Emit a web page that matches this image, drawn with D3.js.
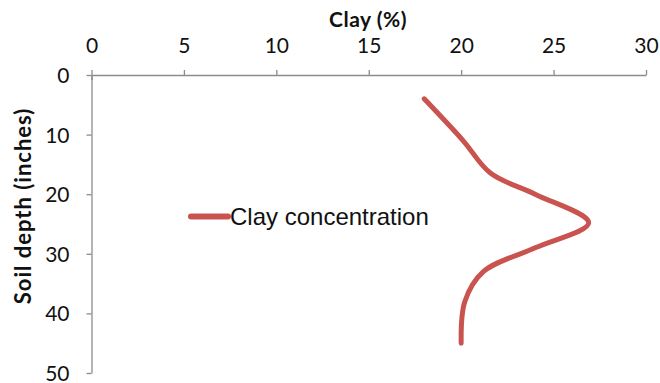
<!DOCTYPE html>
<html>
<head>
<meta charset="utf-8">
<script src="https://cdn.jsdelivr.net/npm/d3@7"></script>
<style>
  html, body { margin: 0; padding: 0; background: #fff; }
  svg { display: block; }
  .tick text { font-family: Lato, "Open Sans", sans-serif; font-size: 21px; fill: #111; }
  .axis path, .axis line { stroke: #8c8c8c; stroke-width: 1.3px; }
</style>
</head>
<body>
<svg id="chart" width="660" height="383"></svg>
<script>
// Clay content with soil depth
const depthIn = [4, 11, 16.5, 20, 24.8, 29, 33, 38, 45];
const clayPct = [18, 20.1, 21.6, 24, 26.9, 24, 21.2, 20.2, 20];
const xTicks = [0, 5, 10, 15, 20, 25, 30];
const yTicks = [0, 10, 20, 30, 40, 50];
const seriesName = "Clay concentration";
const xTitle = "Clay (%)";
const yTitle = "Soil depth (inches)";

const svg = d3.select("#chart");
const plotL = 91.5, plotR = 646, plotT = 75, plotB = 373;
const color = "#c9534f";

const x = d3.scaleLinear().domain([0, 30]).range([plotL, plotR]);
const y = d3.scaleLinear().domain([0, 50]).range([plotT, plotB]);

// top x axis
const gx = svg.append("g").attr("class", "axis").attr("transform", `translate(0,${plotT})`)
  .call(d3.axisTop(x).tickValues(xTicks).tickSize(5).tickPadding(17).tickSizeOuter(0));
gx.selectAll(".tick text").attr("dy", "0");
// the origin tick crosses through the axis line
gx.selectAll(".tick line").filter(d => d === 0).attr("y2", 5).attr("y1", -5);

// left y axis
const gy = svg.append("g").attr("class", "axis").attr("transform", `translate(${plotL},0)`)
  .call(d3.axisLeft(y).tickValues(yTicks).tickSize(5).tickPadding(17).tickSizeOuter(0));
gy.selectAll(".tick text").attr("dy", "0.36em");

// axis titles
svg.append("text").attr("x", 368).attr("y", 27).attr("text-anchor", "middle")
  .style("font-family", "Lato, sans-serif").style("font-weight", "bold").style("font-size", "21px")
  .style("letter-spacing", "0.5px")
  .attr("fill", "#111").text(xTitle);
svg.append("text").attr("transform", "translate(31,206) rotate(-90)")
  .attr("text-anchor", "middle")
  .style("font-family", "Lato, sans-serif").style("font-weight", "bold").style("font-size", "22px")
  .style("letter-spacing", "1px")
  .attr("fill", "#111").text(yTitle);

// profile line
const data = depthIn.map((d, i) => ({ depth: d, clay: clayPct[i] }));
const line = d3.line().x(d => x(d.clay)).y(d => y(d.depth)).curve(d3.curveCatmullRom.alpha(0.5));
svg.append("path").datum(data).attr("d", line)
  .attr("fill", "none").attr("stroke", color).attr("stroke-width", 5)
  .attr("stroke-linecap", "round").attr("stroke-linejoin", "round");

// legend
svg.append("line").attr("x1", 191).attr("x2", 228).attr("y1", 216.5).attr("y2", 216.5)
  .attr("stroke", color).attr("stroke-width", 6).attr("stroke-linecap", "round");
svg.append("text").attr("x", 230).attr("y", 225)
  .style("font-family", "'Liberation Sans', Arial, sans-serif").style("font-size", "24px")
  .attr("fill", "#111").text(seriesName);
</script>
</body>
</html>
